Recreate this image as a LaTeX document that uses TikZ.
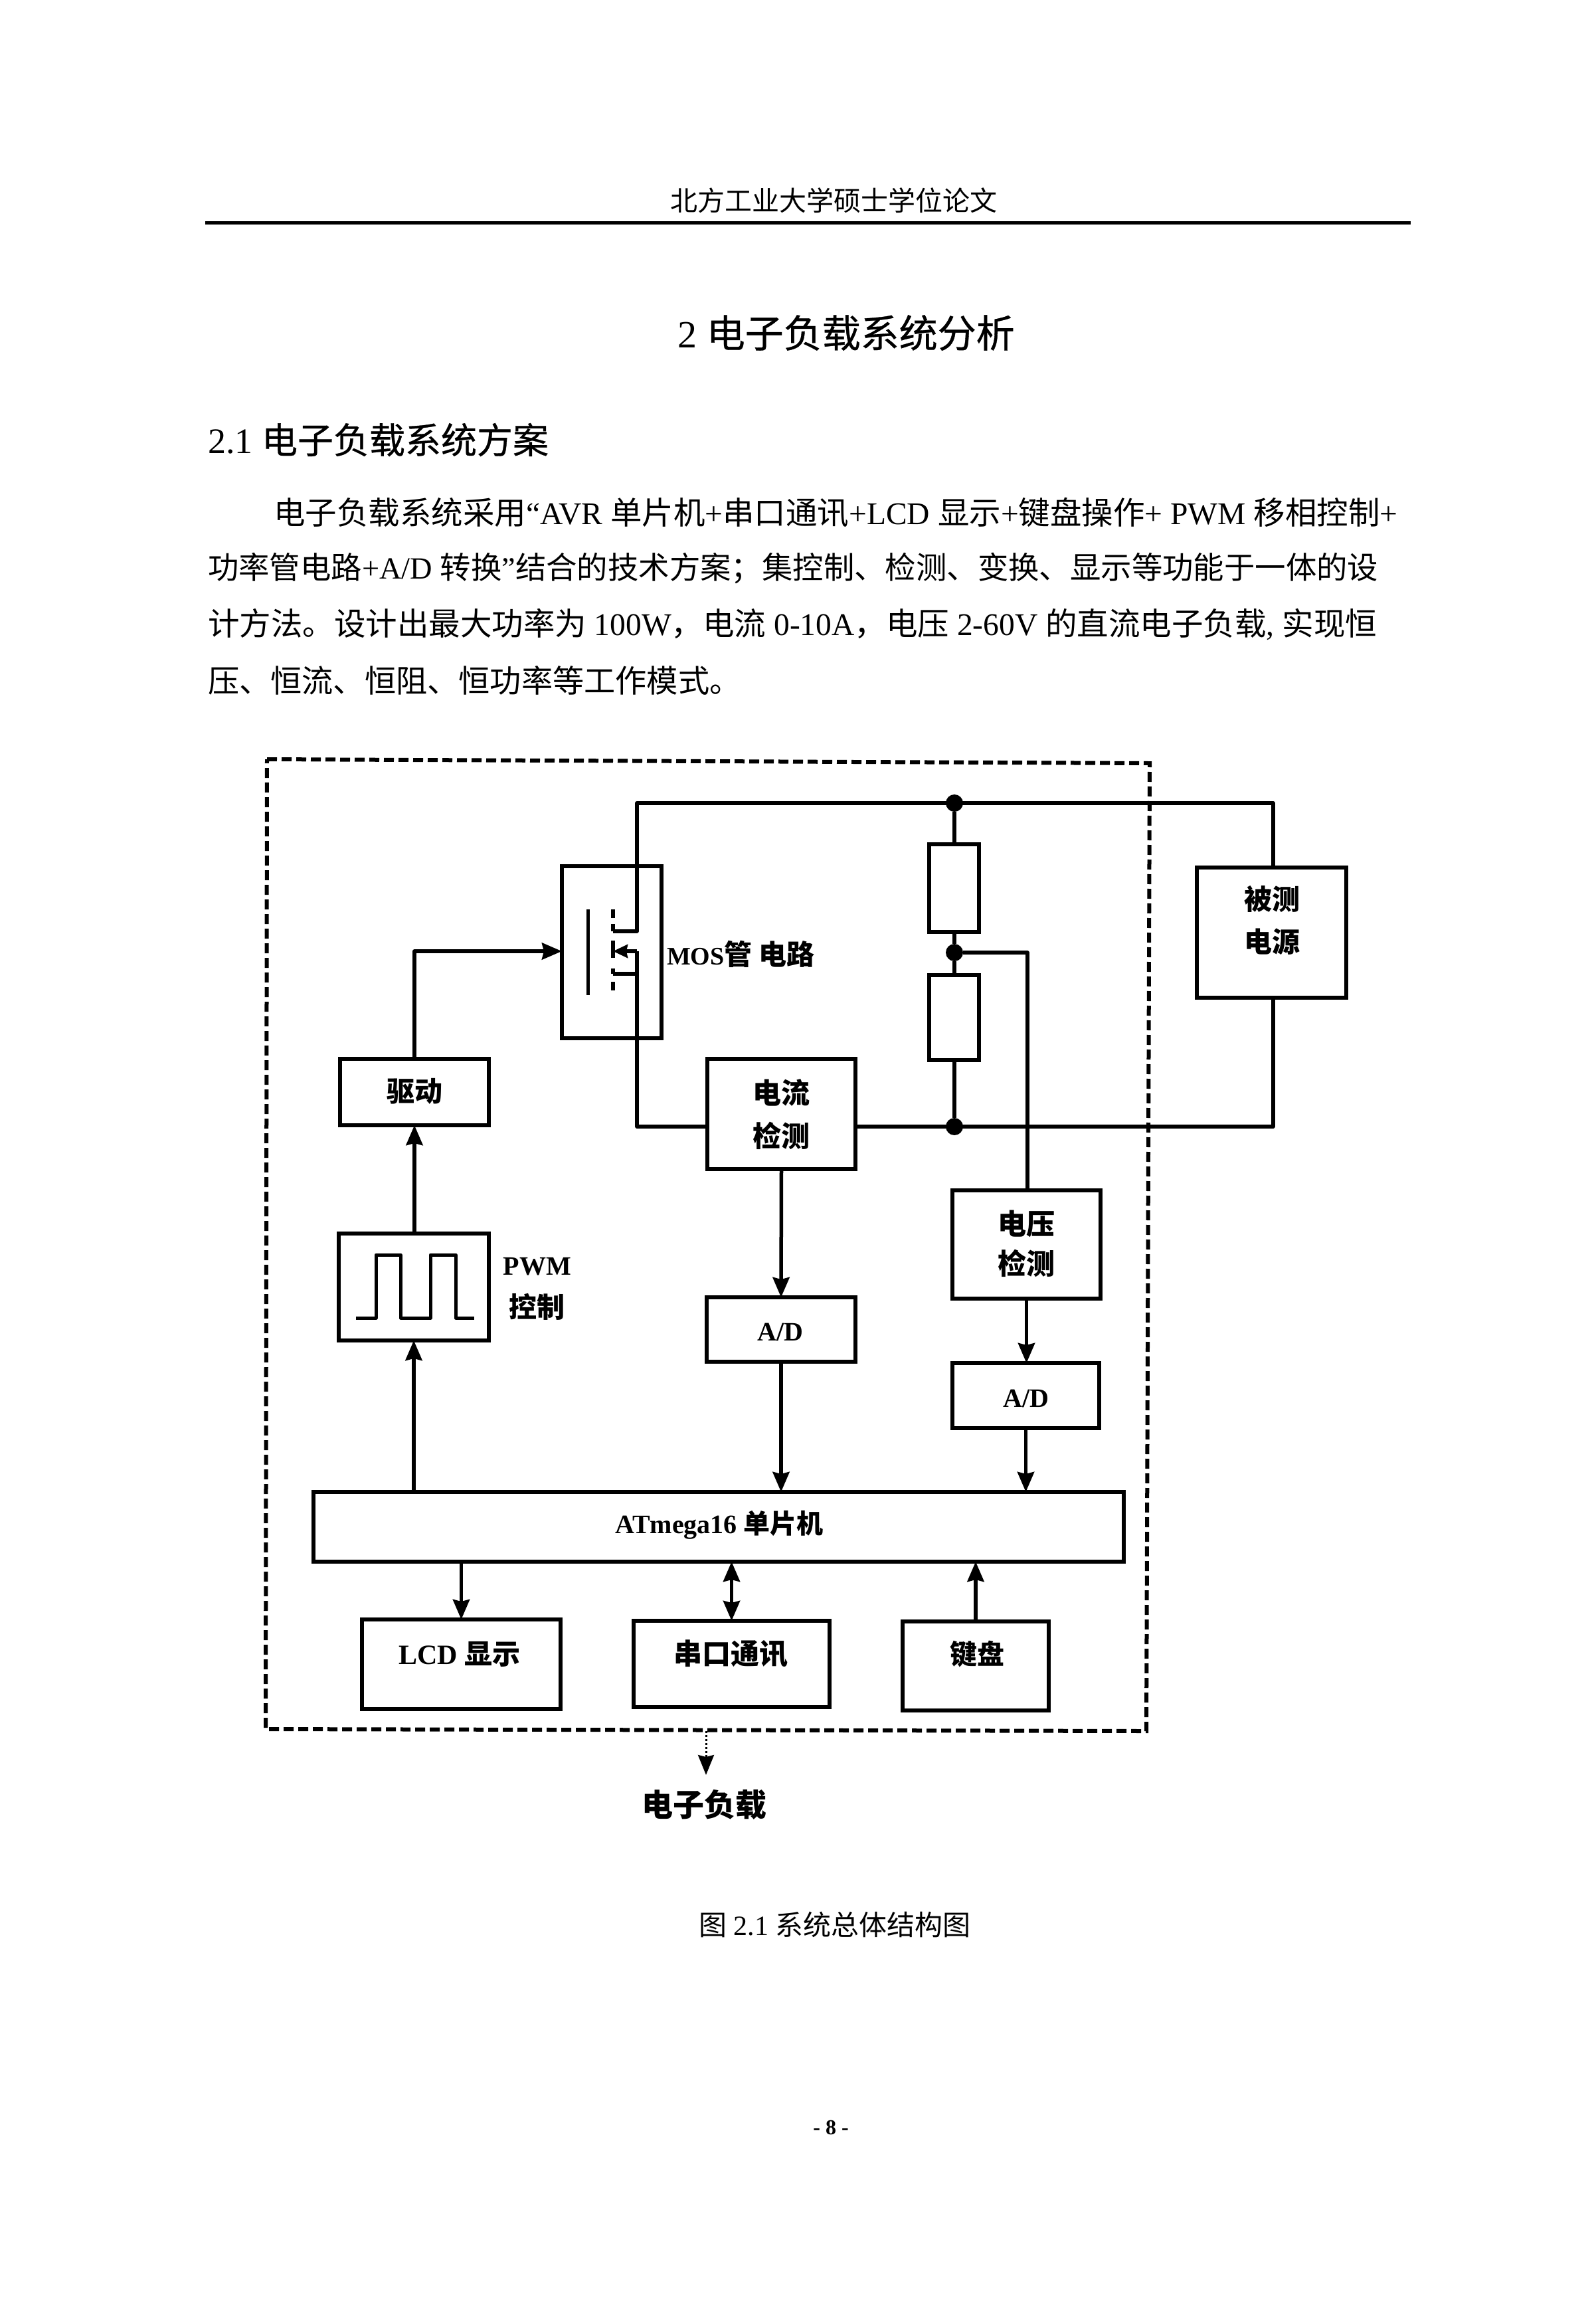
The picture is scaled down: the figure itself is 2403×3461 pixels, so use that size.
\documentclass[tikz,border=0pt]{standalone}
\usepackage{fontspec}
\setmainfont{Liberation Serif}
\newfontfamily\cjk{Noto Sans CJK SC}
\newfontfamily\cjkh[FakeBold=0.6]{Noto Sans CJK SC}
\usetikzlibrary{arrows.meta}
\newcommand{\zh}[1]{{\cjk #1}}
\newcommand{\zhh}[1]{{\cjkh #1}}
\newcommand{\fs}[1]{\fontsize{#1}{#1}\selectfont}
\tikzset{
  boxstyle/.style={draw=black,line width=5.5pt,inner sep=0pt,outer sep=0pt,fill=none},
  wire/.style={draw=black,line width=5.5pt,line join=round},
  flow/.style={wire,-{Stealth[length=30pt,width=25pt,inset=3pt]}},
  bothflow/.style={wire,{Stealth[length=30pt,width=25pt,inset=3pt]}-{Stealth[length=30pt,width=25pt,inset=3pt]}},
  dot/.style={circle,fill=black,inner sep=0pt,minimum size=26pt},
  lab/.style={inner sep=0pt,outer sep=0pt,font=\bfseries},
  txt/.style={inner sep=0pt,outer sep=0pt,anchor=west},
  frame/.style={draw=black,line width=6pt,dash pattern=on 15pt off 7pt},
}
\newcommand{\bx}[5]{\node[boxstyle,minimum width={#4-#2},minimum height={#5-#3}] (#1) at ({(#2+#4)/2},{(#3+#5)/2}) {};}
\begin{document}
\begin{tikzpicture}[x=1pt,y=-1pt]
\useasboundingbox[fill=white] (0,0) rectangle (2403,3461);

% page text
\node[inner sep=0pt] (header) at (1255,302) {\fs{41}\zh{北方工业大学硕士学位论文}};
\coordinate (ruleL) at (309,335); \coordinate (ruleR) at (2124,335);
\draw[line width=5pt] (ruleL) -- (ruleR);
\node[inner sep=0pt] (title) at (1274,501) {\fs{58}2 \zhh{电子负载系统分析}};
\node[txt] (section) at (313,662) {\fs{54}2.1 \zhh{电子负载系统方案}};
\node[txt] (p1) at (412,772) {\fs{47.5}\zh{电子负载系统采用}“AVR \zh{单片机}+\zh{串口通讯}+LCD \zh{显示}+\zh{键盘操作}+ PWM \zh{移相控制}+};
\node[txt] (p2) at (313,856) {\fs{46.4}\zh{功率管电路}+A/D \zh{转换}”\zh{结合的技术方案^^^^ff1b集控制、检测、变换、显示等功能于一体的设}};
\node[txt] (p3) at (313,940) {\fs{47.5}\zh{计方法。设计出最大功率为} 100W\zh{^^^^ff0c电流} 0-10A\zh{^^^^ff0c电压} 2-60V \zh{的直流电子负载}, \zh{实现恒}};
\node[txt] (p4) at (313,1024) {\fs{47.2}\zh{压、恒流、恒阻、恒功率等工作模式。}};
\node[inner sep=0pt] (caption) at (1257,2897) {\fs{42}\zh{图} 2.1 \zh{系统总体结构图}};
\node[inner sep=0pt,font=\bfseries] (page) at (1251,3203) {\fs{32}- 8 -};

% outer dashed frame
\coordinate (fa) at (402,1143); \coordinate (fb) at (1731,1149);
\coordinate (fc) at (1726,2606); \coordinate (fd) at (400,2603);
\draw[frame] (fa) -- (fb) -- (fc) -- (fd) -- cycle;

% boxes
\bx{mos}{846}{1304}{996}{1563}
\bx{power}{1802}{1306}{2027}{1502}
\bx{ra}{1399}{1271}{1474}{1403}
\bx{rb}{1399}{1468}{1474}{1596}
\bx{drv}{512}{1594}{736}{1694}
\bx{ibox}{1065}{1594}{1288}{1760}
\bx{pwm}{510}{1857}{736}{2018}
\bx{vbox}{1434}{1792}{1657}{1955}
\bx{ada}{1064}{1953}{1288}{2050}
\bx{adb}{1434}{2052}{1655}{2150}
\bx{mcu}{472}{2246}{1692}{2351}
\bx{lcd}{545}{2438}{844}{2573}
\bx{com}{954}{2440}{1249}{2570}
\bx{key}{1359}{2441}{1579}{2575}

% labels
\node[lab] (tpa) at (1915,1354) {\fs{42}\zh{被测}};
\node[lab] (tpb) at (1915,1418) {\fs{42}\zh{电源}};
\node[lab,anchor=west] (tmos) at (1004,1436) {\fs{38}MOS\fs{42}\zh{管 电路}};
\node[lab] (tdrv) at (624,1643) {\fs{42}\zh{驱动}};
\node[lab] (tia) at (1176,1645) {\fs{43}\zh{电流}};
\node[lab] (tib) at (1176,1710) {\fs{43}\zh{检测}};
\node[lab] (tva) at (1545,1842) {\fs{43}\zh{电压}};
\node[lab] (tvb) at (1545,1902) {\fs{43}\zh{检测}};
\node[lab] (tpwma) at (809,1907) {\fs{40}PWM};
\node[lab] (tpwmb) at (808,1967) {\fs{42}\zh{控制}};
\node[lab] (tada) at (1175,2005) {\fs{40}A/D};
\node[lab] (tadb) at (1545,2105) {\fs{40}A/D};
\node[lab] (tmcu) at (1083,2296) {\fs{40}ATmega16 \zh{单片机}};
\node[lab] (tlcd) at (692,2490) {\fs{42}LCD \zh{显示}};
\node[lab] (tcom) at (1100,2490) {\fs{43}\zh{串口通讯}};
\node[lab] (tkey) at (1471,2490) {\fs{41}\zh{键盘}};
\node[lab] (tload) at (1060,2717) {\fs{47}\zh{电子负载}};

% junctions and wire corners
\node[dot] (ja) at (1437,1209) {};
\node[dot] (jb) at (1437,1434) {};
\node[dot] (jc) at (1437,1696) {};
\coordinate (tl) at (959,1209);
\coordinate (tr) at (1917,1209);
\coordinate (br) at (1917,1696);
\coordinate (bl) at (959,1696);
\coordinate (vc) at (1547,1434);
\coordinate (drain) at (959,1402);
\coordinate (chd) at (923,1402);
\coordinate (srcT) at (959,1432);
\coordinate (src) at (959,1466);
\coordinate (chs) at (923,1466);
\coordinate (gate) at (624,1432);
\coordinate (gatein) at (846,1432);

% main wires
\draw[wire] (chd) -- (drain) -- (tl) -- (tr) -- (power.north -| tr);
\draw[wire] (power.south -| br) -- (br) -- (ibox.east |- br);
\draw[wire] (chs) -- (src);
\draw[wire] (srcT) -- (bl) -- (ibox.west |- bl);
\draw[wire] (ja) -- (ra.north -| ja);
\draw[wire] (ra.south -| jb) -- (jb);
\draw[wire] (jb) -- (rb.north -| jb);
\draw[wire] (rb.south -| jc) -- (jc);
\draw[wire] (jb) -- (vc) -- (vbox.north -| vc);

% MOS symbol
\coordinate (ga) at (885,1369); \coordinate (gb) at (885,1498);
\draw[line width=5pt] (ga) -- (gb);
\coordinate (c1a) at (923,1369); \coordinate (c1b) at (923,1382);
\coordinate (c2a) at (923,1391); \coordinate (c3a) at (923,1416);
\coordinate (c3b) at (923,1442); \coordinate (c4a) at (923,1458);
\coordinate (c5a) at (923,1478); \coordinate (c5b) at (923,1491);
\draw[line width=6pt] (c1a) -- (c1b) (c2a) -- (chd) (c3a) -- (c3b) (c4a) -- (chs) (c5a) -- (c5b);
\draw[wire,-{Stealth[length=22pt,width=20pt,inset=2pt]}] (srcT) -- (c3a |- srcT);

% signal arrows
\draw[flow] (drv.north -| gate) -- (gate) -- (gatein);
\draw[flow] (pwm.north -| drv) -- (drv.south);
\draw[flow] (mcu.north -| pwm) -- (pwm.south);
\draw[flow] (ibox.south) -- (ada.north);
\draw[flow] (ada.south) -- (mcu.north -| ada);
\draw[flow] (vbox.south) -- (adb.north -| vbox);
\draw[flow] (adb.south) -- (mcu.north -| adb);
\draw[flow] (mcu.south -| lcd) -- (lcd.north);
\draw[bothflow] (mcu.south -| com) -- (com.north);
\draw[flow] (key.north) -- (mcu.south -| key);

% PWM waveform
\coordinate (w1) at (536,1984); \coordinate (w2) at (566,1984); \coordinate (w3) at (566,1889);
\coordinate (w4) at (603,1889); \coordinate (w5) at (603,1984); \coordinate (w6) at (648,1984);
\coordinate (w7) at (648,1889); \coordinate (w8) at (686,1889); \coordinate (w9) at (686,1984);
\coordinate (w10) at (714,1984);
\draw[line width=5pt,line join=round] (w1) -- (w2) -- (w3) -- (w4) -- (w5) -- (w6) -- (w7) -- (w8) -- (w9) -- (w10);

% output arrow to load
\coordinate (loadS) at (1063,2606);
\coordinate (loadE) at (1063,2672);
\draw[line width=3pt,dashed,-{Stealth[length=30pt,width=24pt,inset=3pt]}] (loadS) -- (loadE);
\end{tikzpicture}
\end{document}
